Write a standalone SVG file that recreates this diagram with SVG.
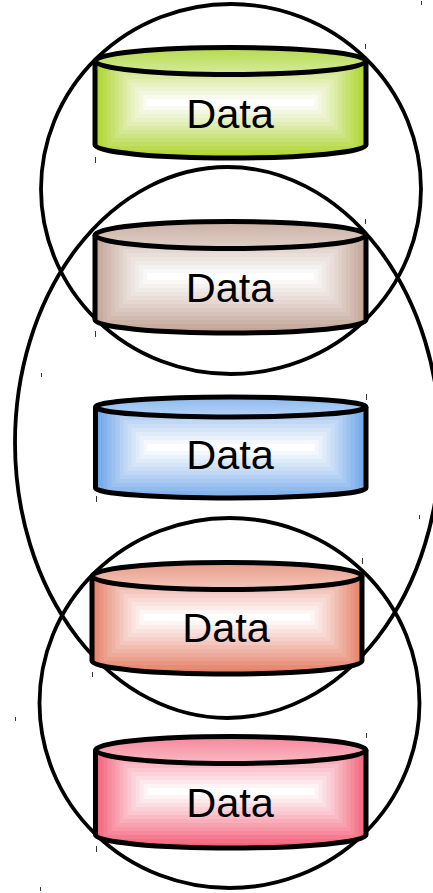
<svg xmlns="http://www.w3.org/2000/svg" width="433" height="893" viewBox="0 0 433 893">
<style>
.ring{fill:none;stroke:#000;stroke-width:3.800}
.wall,.lid{stroke:#000;stroke-width:5;stroke-linejoin:round}
.wall{fill:none}
.lbl{font-family:"Liberation Sans",Arial,sans-serif;font-size:41.500px;text-anchor:middle;fill:#000}
.tick{stroke:#333;stroke-width:1;fill:none}
.b rect{fill:#fff}
</style>
<defs>
<linearGradient id="g1" x1="0" y1="0" x2="0" y2="1"><stop offset="0" stop-color="#b5da4c"/><stop offset="1" stop-color="#d6eb9f"/></linearGradient>
<linearGradient id="g2" x1="0" y1="0" x2="0" y2="1"><stop offset="0" stop-color="#cbb0a4"/><stop offset="1" stop-color="#e0d0c9"/></linearGradient>
<linearGradient id="g3" x1="0" y1="0" x2="0" y2="1"><stop offset="0" stop-color="#8bb9ee"/><stop offset="1" stop-color="#b8d4f6"/></linearGradient>
<linearGradient id="g4" x1="0" y1="0" x2="0" y2="1"><stop offset="0" stop-color="#e89c88"/><stop offset="1" stop-color="#f4c8bc"/></linearGradient>
<linearGradient id="g5" x1="0" y1="0" x2="0" y2="1"><stop offset="0" stop-color="#f5879a"/><stop offset="1" stop-color="#fabac5"/></linearGradient>
<g id="bands" class="b">
<rect x="4" y="4" width="263" height="103" opacity=".08"/>
<rect x="8" y="8" width="255" height="95" opacity=".09"/>
<rect x="12" y="12" width="247" height="87" opacity=".1"/>
<rect x="16" y="16" width="239" height="79" opacity=".11"/>
<rect x="20" y="20" width="231" height="71" opacity=".12"/>
<rect x="24" y="24" width="223" height="63" opacity=".14"/>
<rect x="28" y="28" width="215" height="55" opacity=".16"/>
<rect x="32" y="32" width="207" height="47" opacity=".18"/>
<rect x="36" y="36" width="199" height="39" opacity=".2"/>
<rect x="40" y="40" width="191" height="31" opacity=".25"/>
<rect x="44" y="44" width="183" height="23" opacity=".33"/>
<rect x="48" y="48" width="175" height="15" opacity=".5"/>
<rect x="52" y="52" width="167" height="7" opacity="1"/>
</g>
<clipPath id="c1"><path d="M95,61V145A135.5,13 0 0 0 366,145V61Z"/></clipPath>
<clipPath id="c2"><path d="M95,235V320A135.5,13 0 0 0 366,320V235Z"/></clipPath>
<clipPath id="c3"><path d="M95.500,407V488A135.250,10 0 0 0 366,488V407Z"/></clipPath>
<clipPath id="c4"><path d="M92,576V661A135,13 0 0 0 362,661V576Z"/></clipPath>
<clipPath id="c5"><path d="M95.500,750V835A135.250,13 0 0 0 366,835V750Z"/></clipPath>
</defs>
<g id="ring-top"><ellipse class="ring" cx="231" cy="189" rx="190" ry="185"/><path class="tick" d="M421.500,1V5M41.500,373V377"/></g>
<g id="ring-middle"><ellipse class="ring" cx="227.500" cy="442.500" rx="212.500" ry="275.500"/><path class="tick" d="M15.500,717V721"/></g>
<g id="ring-bottom"><ellipse class="ring" cx="229.500" cy="703" rx="190" ry="185"/><path class="tick" d="M419.500,515V519M40.500,887V891"/></g>
<g id="store-1">
<g clip-path="url(#c1)"><rect x="95" y="47" width="271" height="111" fill="#aed52e"/><use href="#bands" x="95" y="47"/></g>
<path class="wall" d="M95,61V145A135.500,13 0 0 0 366,145V61"/>
<ellipse class="lid" cx="230.500" cy="61" rx="135.500" ry="13.500" fill="url(#g1)"/>
<text class="lbl" x="230" y="128">Data</text>
<path class="tick" d="M365.500,44V49M95.500,157V163"/>
</g>
<g id="store-2">
<g clip-path="url(#c2)"><rect x="95" y="221" width="271" height="111" fill="#c3a698"/><use href="#bands" x="95" y="221"/></g>
<path class="wall" d="M95,235V320A135.500,13 0 0 0 366,320V235"/>
<ellipse class="lid" cx="230.500" cy="235" rx="135.500" ry="13.500" fill="url(#g2)"/>
<text class="lbl" x="229.500" y="302">Data</text>
<path class="tick" d="M365.500,219V224M95.500,331V337"/>
</g>
<g id="store-3">
<g clip-path="url(#c3)"><rect x="95.500" y="397" width="271" height="101" fill="#6ea6ea"/><use href="#bands" x="95.500" y="392"/></g>
<path class="wall" d="M95.500,407V488A135.250,10 0 0 0 366,488V407"/>
<ellipse class="lid" cx="230.750" cy="407" rx="135.250" ry="10" fill="url(#g3)"/>
<text class="lbl" x="230" y="469">Data</text>
<path class="tick" d="M366.500,394V400M96.500,496V502"/>
</g>
<g id="store-4">
<g clip-path="url(#c4)"><rect x="92" y="562" width="270" height="112" fill="#e5826a"/><use href="#bands" x="91.500" y="562"/></g>
<path class="wall" d="M92,576V661A135,13 0 0 0 362,661V576"/>
<ellipse class="lid" cx="227" cy="576" rx="135" ry="13.500" fill="url(#g4)"/>
<text class="lbl" x="226" y="642">Data</text>
<path class="tick" d="M362.500,558V564M92.500,672V677"/>
</g>
<g id="store-5">
<g clip-path="url(#c5)"><rect x="95.500" y="736" width="271" height="112" fill="#f4647c"/><use href="#bands" x="95.500" y="736"/></g>
<path class="wall" d="M95.500,750V835A135.250,13 0 0 0 366,835V750"/>
<ellipse class="lid" cx="230.750" cy="750" rx="135.250" ry="13.500" fill="url(#g5)"/>
<text class="lbl" x="230" y="817">Data</text>
<path class="tick" d="M366.500,733V738M96.500,846V852"/>
</g>
</svg>
